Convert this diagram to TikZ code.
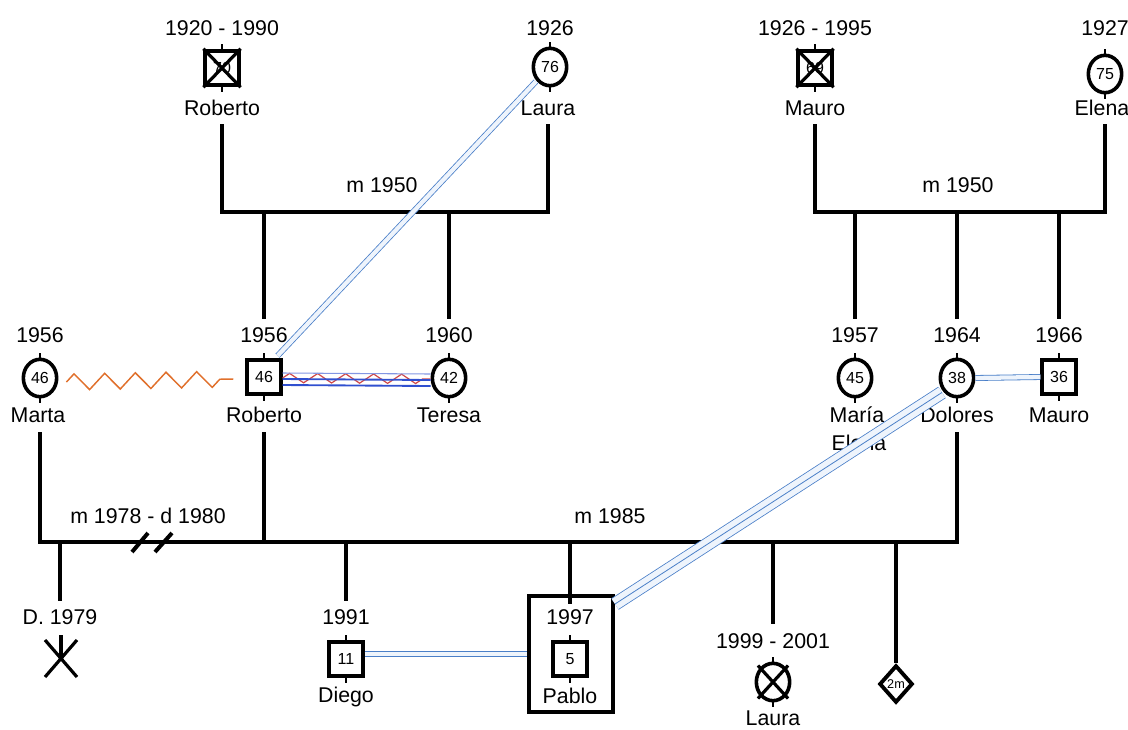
\documentclass[tikz,border=0pt]{standalone}
\usepackage{fontspec}
\setmainfont{Liberation Sans}
\usetikzlibrary{shapes.geometric,decorations.pathmorphing,calc}
\definecolor{tieblue}{HTML}{4A7FC8}
\definecolor{tiefill}{HTML}{EEF4FC}
\definecolor{dkblue}{HTML}{3050D0}
\definecolor{zigor}{HTML}{E0702C}
\definecolor{zigred}{HTML}{D04848}
\begin{document}
\begin{tikzpicture}[x=0.75pt,y=-0.75pt,
  lbl/.style={font=\fontsize{16}{18}\selectfont, inner sep=0pt},
  num/.style={font=\fontsize{12}{13}\selectfont},
  male/.style={draw, line width=2.9pt, minimum width=25pt, minimum height=26pt, inner sep=0pt, num},
  female/.style={ellipse, draw, line width=2.7pt, minimum width=25pt, minimum height=28pt, inner sep=0pt, num},
  rel/.style={line width=2.3pt},
  tick/.style={line width=2pt},
  cross/.style={line width=2.4pt},
  tie/.style={draw=tieblue, double=tiefill, double distance=3.2pt, line width=0.6pt},
  tiewide/.style={draw=tieblue, double=tiefill, double distance=9pt, line width=0.6pt},
  tiemid/.style={draw=tieblue, line width=0.6pt},
]
\useasboundingbox (0,0) rectangle (1128,729);

% ---------- generation 1 ----------
\node[lbl] (y1) at (222,28) {1920 - 1990};
\node[male] (rob0) at (222,68) {70};
\node[lbl] (n1) at (222,108) {Roberto};

\node[lbl] (y2) at (550,28) {1926};
\node[female] (lau0) at (550,67) {76};
\node[lbl] (n2) at (548,108) {Laura};

\node[lbl] (y3) at (815,28) {1926 - 1995};
\node[male] (mau0) at (815,68) {69};
\node[lbl] (n3) at (815,108) {Mauro};

\node[lbl] (y4) at (1105,28) {1927};
\node[female] (ele0) at (1105,74) {75};
\node[lbl] (n4) at (1102,108) {Elena};

% ---------- generation 2 ----------
\node[lbl] (y5) at (40,335) {1956};
\node[female] (mar) at (40,378) {46};
\node[lbl] (n5) at (38,415) {Marta};

\node[lbl] (y6) at (264,335) {1956};
\node[male] (rob1) at (264,377) {46};
\node[lbl] (n6) at (264,415) {Roberto};

\node[lbl] (y7) at (449,335) {1960};
\node[female] (ter) at (449,378) {42};
\node[lbl] (n7) at (449,415) {Teresa};

\node[lbl] (y8) at (855,335) {1957};
\node[female] (mel) at (855,378) {45};
\node[lbl] (n8) at (857,415) {María};
\node[lbl] (n8b) at (859,443) {Elena};

\node[lbl] (y9) at (957,335) {1964};
\node[female] (dol) at (957,378) {38};
\node[lbl] (n9) at (957,415) {Dolores};

\node[lbl] (y10) at (1059,335) {1966};
\node[male] (mau1) at (1059,377) {36};
\node[lbl] (n10) at (1059,415) {Mauro};

% ---------- generation 3 ----------
\node[lbl] (y11) at (60,617) {D. 1979};
\coordinate (xm) at (61,658);

\node[lbl] (y12) at (346,617) {1991};
\node[male] (die) at (346,659) {11};
\node[lbl] (n12) at (346,697) {Diego};

\node[draw, line width=3pt, minimum width=63pt, minimum height=87pt, inner sep=0pt] (pbox) at (571,654) {};
\node[lbl] (y13) at (570,617) {1997};
\node[male] (pab) at (570,659) {5};
\node[lbl] (n13) at (570,696) {Pablo};

\node[lbl] (y14) at (773,641) {1999 - 2001};
\node[female] (lau1) at (773,682) {};
\node[lbl] (n14) at (773,718) {Laura};

\node[diamond, draw, line width=2.9pt, minimum width=25pt, minimum height=28pt, inner sep=0pt, font=\fontsize{9.5}{10}\selectfont] (dia) at (896,684) {2m};

% ---------- symbol ticks ----------
\foreach \n in {rob0,lau0,mau0,ele0,mar,rob1,ter,mel,dol,mau1,die,pab,lau1}{
  \draw[tick] (\n.north) -- ++(0,-5);
  \draw[tick] (\n.south) -- ++(0,5);
}

% deceased marks
\draw[cross] (rob0.north west) -- (rob0.south east) (rob0.north east) -- (rob0.south west);
\draw[cross] (mau0.north west) -- (mau0.south east) (mau0.north east) -- (mau0.south west);
\draw[cross] ($(lau1.north west)+(-2,-2)$) -- ($(lau1.south east)+(2,2)$) ($(lau1.north east)+(2,-2)$) -- ($(lau1.south west)+(-2,2)$);
% miscarriage
\draw[cross] ($(xm)+(-16,-18)$) -- ($(xm)+(16,19)$) ($(xm)+(16,-18)$) -- ($(xm)+(-16,19)$);

% ---------- family lines ----------
\coordinate (a1) at (222,124); \coordinate (a2) at (222,212);
\coordinate (a3) at (548,212); \coordinate (a4) at (548,124);
\draw[rel] (a1) -- (a2) -- (a3) -- (a4);
\node[lbl] (m1) at (382,185) {m 1950};
\draw[rel] (a2 -| rob1) -- ($(y6.north)+(0,-8)$);
\draw[rel] (a2 -| ter) -- ($(y7.north)+(0,-8)$);

\coordinate (b1) at (815,124); \coordinate (b2) at (815,212);
\coordinate (b3) at (1105,212); \coordinate (b4) at (1105,124);
\draw[rel] (b1) -- (b2) -- (b3) -- (b4);
\node[lbl] (m2) at (958,185) {m 1950};
\draw[rel] (b2 -| mel) -- ($(y8.north)+(0,-8)$);
\draw[rel] (b2 -| dol) -- ($(y9.north)+(0,-8)$);
\draw[rel] (b2 -| mau1) -- ($(y10.north)+(0,-8)$);

\coordinate (c1) at (40,432); \coordinate (c2) at (40,542);
\coordinate (c3) at (957,542); \coordinate (c4) at (957,432);
\coordinate (c5) at (264,432); \coordinate (c6) at (264,542);
\draw[rel] (c1) -- (c2) -- (c3) -- (c4);
\draw[rel] (c5) -- (c6);
\node[lbl] (m3) at (148,516) {m 1978 - d 1980};
\node[lbl] (m4) at (610,516) {m 1985};
% divorce slashes
\draw[line width=3pt] (132,552) -- (148,533) (155,552) -- (172,533);

% children
\draw[rel] (c2 -| y11) -- ($(y11.north)+(0,-8)$);
\draw[rel] (xm) -- ++(0,-23);
\draw[rel] (c2 -| die) -- ($(y12.north)+(0,-8)$);
\draw[rel] (c2 -| pab) -- ($(pab |- pbox.north)+(0,10)$);
\draw[rel] (c2 -| lau1) -- ($(y14.north)+(0,-9)$);
\draw[rel] (c2 -| dia) -- (dia.north);

% ---------- emotional relationships ----------
\draw[zigor, line width=1.1pt, decorate, decoration={zigzag, segment length=23pt, amplitude=6pt}]
  ($(mar.east)+(8,4)$) -- ($(rob1.west)+(-12,2)$);

\draw[zigred, line width=0.9pt, decorate, decoration={zigzag, segment length=21pt, amplitude=3.5pt}]
  ($(rob1.east)+(0,1)$) -- ($(ter.west)+(0,1)$);
\draw[dkblue!60, line width=0.8pt] ($(rob1.east)+(0,-4)$) -- ($(ter.west)+(0,-4)$);
\draw[dkblue, line width=1.4pt] ($(rob1.east)+(0,2)$) -- ($(ter.west)+(0,2)$);
\draw[dkblue, line width=1.4pt] ($(rob1.east)+(0,8)$) -- ($(ter.west)+(0,8)$);

\draw[tie] ($(lau0.south west)+(-1,0)$) -- ($(rob1.north east)+(-5,-2)$);
\draw[tie] (dol.east) -- (mau1.west);
\draw[tie] ($(die.east)+(0,-5)$) -- ($(pbox.west |- die.east)+(0,-5)$);
\draw[tiewide] ($(dol.south west)+(-2,0)$) -- ($(pbox.north east)+(0,10)$);
\draw[tiemid] ($(dol.south west)+(-2,0)$) -- ($(pbox.north east)+(0,10)$);
\end{tikzpicture}
\end{document}
